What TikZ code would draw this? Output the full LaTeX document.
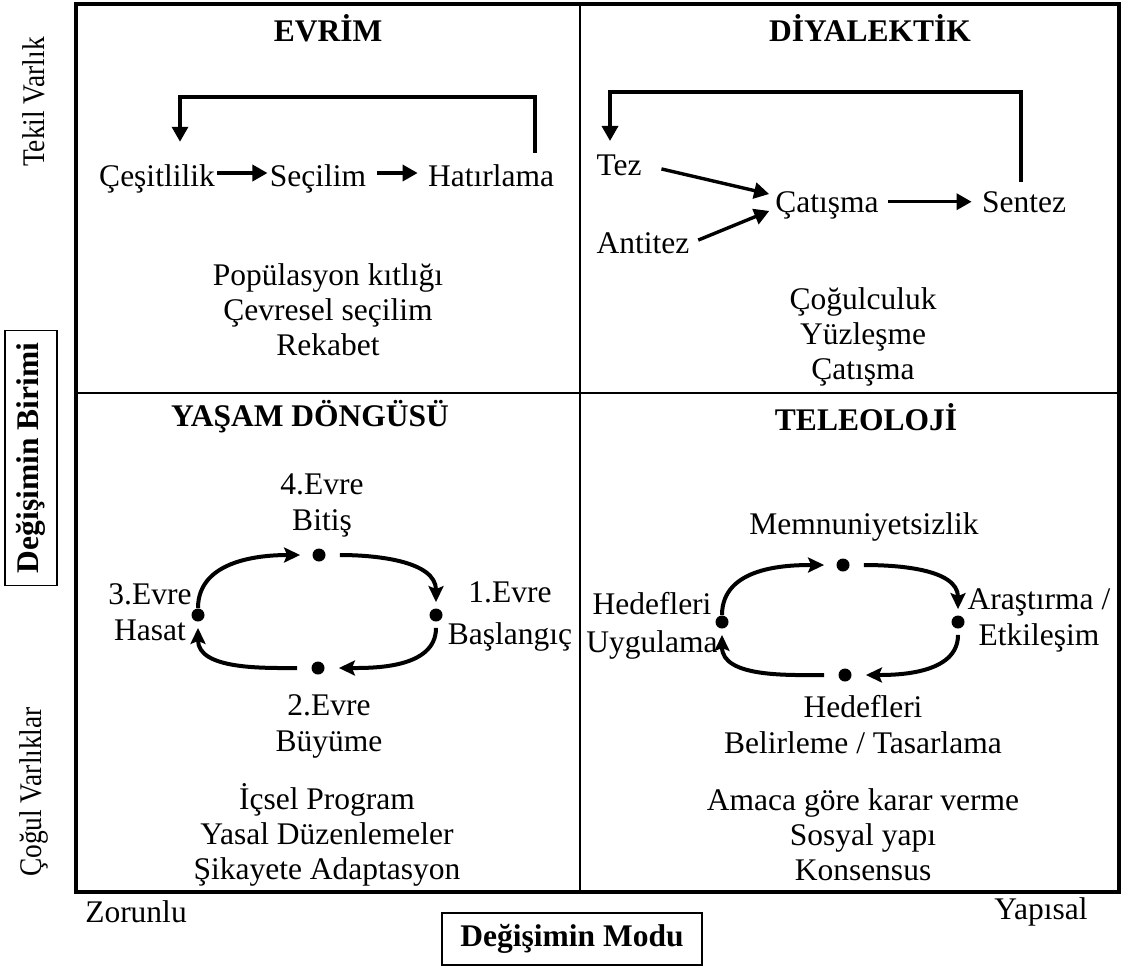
\documentclass[tikz,border=0pt]{standalone}
\usepackage{fontspec}
\setmainfont{Liberation Serif}
\usetikzlibrary{arrows.meta}
\begin{document}
\begin{tikzpicture}[x=0.5pt,y=0.5pt,
  txt/.style={font=\fontsize{15.75}{18}\selectfont, inner sep=1pt, align=center},
  notes/.style={font=\fontsize{15.75}{17.5}\selectfont, inner sep=1pt, align=center},
  ttl/.style={font=\fontsize{15.75}{18}\selectfont\bfseries, inner sep=1pt, align=center},
  frame/.style={line width=1.6pt},
  divider/.style={line width=1.3pt},
  labelbox/.style={draw, line width=0.6pt},
  dot/.style={circle, fill=black, inner sep=0pt, minimum size=6.5pt},
  flow/.style={line width=1.7pt, -{Triangle[length=7.5pt,width=8pt]}},
  cyc/.style={line width=2pt, -{Stealth[length=8pt,width=7.5pt,inset=1.5pt]}}
]
\useasboundingbox (0,0) rectangle (1122,-970);

% quadrant frame
\draw[frame] (76,-4) rectangle (1119,-892);
\draw[divider] (580,-4) -- (580,-892);
\draw[divider] (76,-393) -- (1119,-393);

% axis labels
\node[txt, rotate=90] (tekil) at (34,-102) {\scalebox{0.87}[1]{Tekil Varlık}};
\node[ttl, labelbox, rotate=90, minimum width=127.5pt, minimum height=26pt] (birim) at (31,-458) {Değişimin Birimi};
\node[txt, rotate=90] (cogul) at (34,-792) {\scalebox{0.87}[1]{Çoğul Varlıklar}};
\node[txt] (zorunlu) at (136,-912) {Zorunlu};
\node[ttl, labelbox, minimum width=130pt, minimum height=26pt] (modu) at (572,-939) {Değişimin Modu};
\node[txt] (yapisal) at (1041,-912) {Yapısal};

% quadrant titles
\node[ttl] (evrim) at (328,-28) {EVRİM};
\node[ttl] (diyalektik) at (870,-28) {DİYALEKTİK};
\node[ttl] (yasam) at (310,-417) {YAŞAM DÖNGÜSÜ};
\node[ttl] (teleoloji) at (866,-417) {TELEOLOJİ};

% evolution
\node[txt, anchor=base] (cesit) at (157,-186) {Çeşitlilik};
\node[txt, anchor=base] (secil) at (318,-186) {Seçilim};
\node[txt, anchor=base] (hatir) at (491,-186) {Hatırlama};
\draw[flow] ([yshift=6.5pt]cesit.base east) -- ([yshift=6.5pt]secil.base west);
\draw[flow, shorten <=4pt, shorten >=4pt] ([yshift=6.5pt]secil.base east) -- ([yshift=6.5pt]hatir.base west);
\coordinate (eR) at (535,-97);
\coordinate (eL) at (180,-97);
\draw[flow, shorten <=4.5pt, shorten >=10pt] (eR |- hatir.north) -- (eR) -- (eL) -- (eL |- cesit.north);
\node[notes] (evnotes) at (328,-310) {Popülasyon kıtlığı\\Çevresel seçilim\\Rekabet};

% dialectic
\node[txt, anchor=base] (tez) at (619,-175) {Tez};
\node[txt, anchor=base] (antitez) at (643,-253) {Antitez};
\node[txt, anchor=base] (catisma) at (827,-212) {Çatışma};
\node[txt, anchor=base] (sentez) at (1024,-212) {Sentez};
\draw[flow, shorten <=9pt, shorten >=2pt] (tez.east) -- ([yshift=5pt]catisma.west);
\draw[flow, shorten <=3.5pt, shorten >=2pt] (antitez.east) -- ([yshift=-2.25pt]catisma.west);
\draw[flow, shorten <=3.5pt, shorten >=4pt] (catisma.east |- sentez.west) -- (sentez.west);
\coordinate (dR) at (1021,-92);
\coordinate (dL) at (610,-92);
\draw[flow, shorten <=3.5pt, shorten >=5.5pt] (dR |- sentez.north) -- (dR) -- (dL) -- (dL |- tez.north);
\node[notes] (dinotes) at (863,-337) {Çoğulculuk\\Yüzleşme\\Çatışma};

% life cycle
\node[dot] (lTop) at (319,-555) {};
\node[dot] (lRight) at (436,-615) {};
\node[dot] (lBottom) at (318,-668) {};
\node[dot] (lLeft) at (198,-615) {};
\draw[cyc, shorten >=6pt] (lLeft) to[out=90, in=180] (lTop);
\draw[cyc, shorten <=7pt, shorten >=3pt] (lTop) to[out=0, in=90] (lRight);
\draw[cyc, shorten <=3pt, shorten >=7pt] (lRight) to[out=-90, in=0] (lBottom);
\draw[cyc, shorten <=7pt, shorten >=3pt] (lBottom) to[out=180, in=-90] (lLeft);
\node[txt] (evre4) at (322,-505) {4.Evre\\Bitiş};
\node[txt] (evre3) at (150,-612) {3.Evre\\Hasat};
\node[txt] (evre1) at (510,-616) {1.Evre\\[3pt]Başlangıç};
\node[txt] (evre2) at (329,-726) {2.Evre\\Büyüme};
\node[notes] (lcnotes) at (327,-835) {İçsel Program\\Yasal Düzenlemeler\\Şikayete Adaptasyon};

% teleology
\node[dot] (tTop) at (843,-565) {};
\node[dot] (tRight) at (958,-622) {};
\node[dot] (tBottom) at (845,-675) {};
\node[dot] (tLeft) at (722,-622) {};
\draw[cyc, shorten >=6pt] (tLeft) to[out=90, in=180] (tTop);
\draw[cyc, shorten <=7pt, shorten >=3pt] (tTop) to[out=0, in=90] (tRight);
\draw[cyc, shorten <=3pt, shorten >=7pt] (tRight) to[out=-90, in=0] (tBottom);
\draw[cyc, shorten <=7pt, shorten >=3pt] (tBottom) to[out=180, in=-90] (tLeft);
\node[txt] (memnun) at (864,-527) {Memnuniyetsizlik};
\node[txt] (uygula) at (652,-626) {Hedefleri\\[1pt]Uygulama};
\node[txt] (arastir) at (1039,-620) {Araştırma /\\Etkileşim};
\node[txt] (belirle) at (863,-725) {Hedefleri\\Belirleme / Tasarlama};
\node[notes] (tenotes) at (863,-835) {Amaca göre karar verme\\Sosyal yapı\\Konsensus};
\end{tikzpicture}
\end{document}
